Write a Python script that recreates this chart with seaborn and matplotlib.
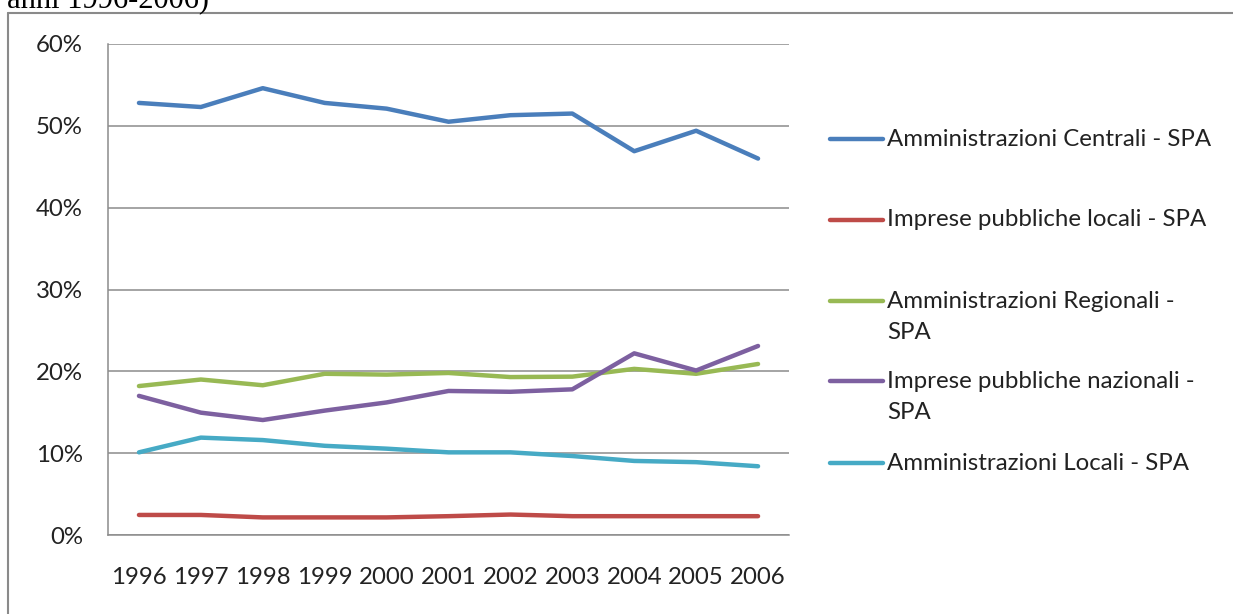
import matplotlib
matplotlib.use("Agg")
import matplotlib.pyplot as plt
from matplotlib.lines import Line2D
import seaborn as sns
import pandas as pd

years = ["1996", "1997", "1998", "1999", "2000", "2001", "2002", "2003", "2004", "2005", "2006"]

centrali = [52.8, 52.3, 54.6, 52.8, 52.1, 50.5, 51.3, 51.5, 46.9, 49.4, 46.0]
imprese_locali = [2.45, 2.45, 2.15, 2.15, 2.15, 2.3, 2.5, 2.3, 2.3, 2.3, 2.3]
regionali = [18.2, 19.0, 18.3, 19.7, 19.6, 19.8, 19.3, 19.35, 20.3, 19.7, 20.9]
imprese_nazionali = [17.0, 14.95, 14.05, 15.2, 16.2, 17.6, 17.5, 17.8, 22.2, 20.1, 23.1]
locali = [10.1, 11.9, 11.6, 10.9, 10.55, 10.1, 10.1, 9.65, 9.05, 8.9, 8.4]

series_names = [
    "Amministrazioni Centrali - SPA",
    "Imprese pubbliche locali - SPA",
    "Amministrazioni Regionali - SPA",
    "Imprese pubbliche nazionali - SPA",
    "Amministrazioni Locali - SPA",
]
legend_lines = [
    ["Amministrazioni Centrali - SPA"],
    ["Imprese pubbliche locali - SPA"],
    ["Amministrazioni Regionali -", "SPA"],
    ["Imprese pubbliche nazionali -", "SPA"],
    ["Amministrazioni Locali - SPA"],
]
colors = ["#4A7EBB", "#BE4B48", "#98B954", "#7D60A0", "#46AAC5"]

all_values = [centrali, imprese_locali, regionali, imprese_nazionali, locali]
rows = []
for name, vals in zip(series_names, all_values):
    for i, (y, v) in enumerate(zip(years, vals)):
        rows.append({"pos": i, "year": y, "serie": name, "value": v})
df = pd.DataFrame(rows)

sns.set_theme(style="white")
plt.rcParams["font.family"] = ["Lato", "DejaVu Sans"]

W, H = 1233, 614
fs = 17.3
fig = plt.figure(figsize=(W / 100, H / 100), dpi=100)
ax = fig.add_axes([108 / W, 1 - 535 / H, 681 / W, 491 / H])

sns.lineplot(data=df, x="pos", y="value", hue="serie", hue_order=series_names,
             palette=colors, linewidth=3.2, legend=False, ax=ax,
             solid_capstyle="round")

grid_col = "#8C8C8C"
ax.set_xlim(-0.5, len(years) - 0.5)
ax.set_ylim(0, 60)
ax.set_yticks(range(0, 61, 10))
ax.set_yticklabels([f"{v}%" for v in range(0, 61, 10)])
ax.set_xticks(range(len(years)))
ax.set_xticklabels(years)
ax.yaxis.grid(True, color=grid_col, linewidth=1.1)
ax.set_axisbelow(True)
ax.set_xlabel("")
ax.set_ylabel("")
for s in ["top", "right"]:
    ax.spines[s].set_visible(False)
for s in ["left", "bottom"]:
    ax.spines[s].set_color(grid_col)
    ax.spines[s].set_linewidth(1.1)
ax.tick_params(axis="y", length=0, pad=18, labelsize=fs, labelcolor="#222222")
ax.tick_params(axis="x", length=0, pad=23, labelsize=fs, labelcolor="#222222")

# legend on the right, drawn entry by entry to follow the original spacing
first_y = [139, 220, 301, 381, 463]
for col, lines, yy in zip(colors, legend_lines, first_y):
    fy = 1 - yy / H
    fig.add_artist(Line2D([830 / W, 883 / W], [fy, fy], transform=fig.transFigure,
                          color=col, linewidth=3.2, solid_capstyle="round"))
    for k, txt in enumerate(lines):
        fig.text(887 / W, 1 - (yy + 31.5 * k) / H, txt, fontsize=fs,
                 color="#222222", va="center")

# outer frame of the chart
frame_col = "#8A8A8A"
fig.add_artist(Line2D([8 / W, 8 / W], [-0.01, 1 - 12.5 / H], transform=fig.transFigure,
                      color=frame_col, linewidth=1.5))
fig.add_artist(Line2D([8 / W, 1.01], [1 - 12.5 / H, 1 - 12.5 / H], transform=fig.transFigure,
                      color=frame_col, linewidth=1.5))

# clipped caption above the chart
fig.text(7 / W, 1 - 7 / H, "anni 1996-2006)", fontsize=22, family="Liberation Serif",
         color="black", va="baseline", ha="left")

fig.savefig("out.png", dpi=100)
